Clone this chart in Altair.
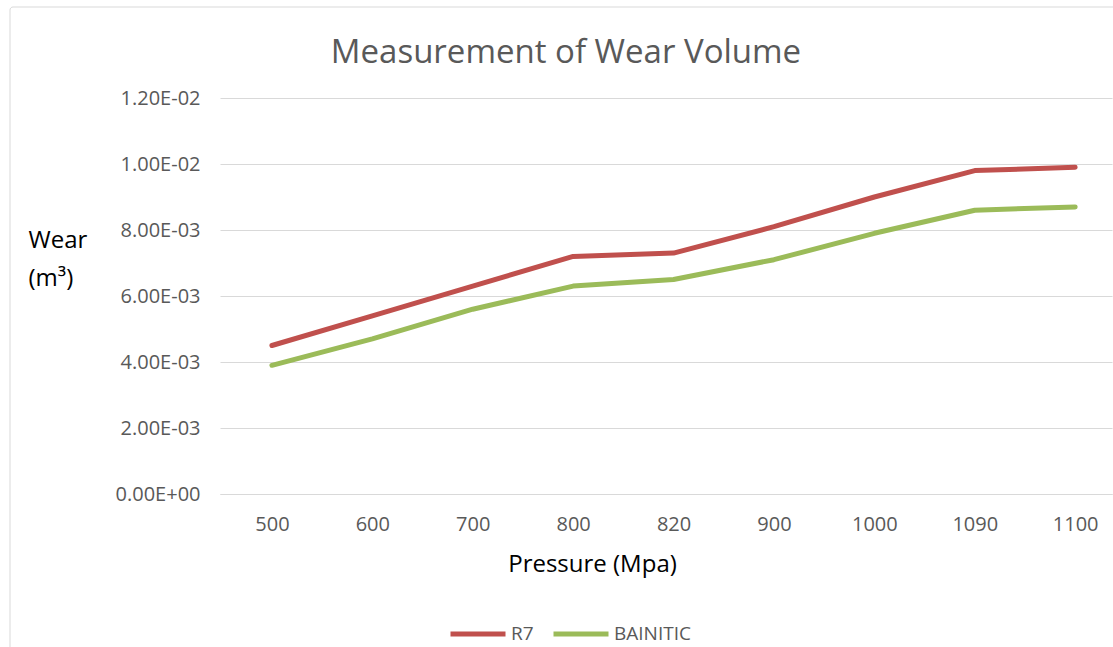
import altair as alt
import pandas as pd

pressure = ["500", "600", "700", "800", "820", "900", "1000", "1090", "1100"]
r7 = [0.0045, 0.0054, 0.0063, 0.0072, 0.0073, 0.0081, 0.0090, 0.0098, 0.0099]
bainitic = [0.0039, 0.0047, 0.0056, 0.0063, 0.0065, 0.0071, 0.0079, 0.0086, 0.0087]
series = ["R7", "BAINITIC"]
colors = ["#C0504D", "#9BBB59"]

rows = []
for i, p in enumerate(pressure):
    rows.append({"Pressure": p, "Series": "R7", "Wear": r7[i], "order": i})
    rows.append({"Pressure": p, "Series": "BAINITIC", "Wear": bainitic[i], "order": i})
df = pd.DataFrame(rows)

FONT = "Open Sans"

lines = alt.Chart(df).mark_line(strokeWidth=5, strokeCap="round", strokeJoin="round", clip=False).encode(
    x=alt.X("Pressure:N", sort=pressure,
            scale=alt.Scale(type="point", padding=0.442, align=0.585),
            axis=alt.Axis(title="Pressure (Mpa)", labelAngle=0, ticks=False, domain=True,
                          domainColor="#D9D9D9", grid=False, labelPadding=20,
                          labelFontSize=20, labelColor="#595959", labelFont=FONT,
                          titleFontSize=24, titleColor="#000000", titleFont=FONT,
                          titleFontWeight="normal", titleX=372, titleY=77,
                          titleAlign="center", titleBaseline="alphabetic")),
    y=alt.Y("Wear:Q",
            scale=alt.Scale(domain=[0, 0.012], nice=False),
            axis=alt.Axis(values=[0, 0.002, 0.004, 0.006, 0.008, 0.010, 0.012],
                          labelExpr="replace(replace(format(datum.value, '.2e'), 'e', 'E'), /E([+-])(\\d)$/, 'E$10$2')",
                          ticks=False, domain=False, grid=True, gridColor="#D9D9D9",
                          labelPadding=20, labelFontSize=20, labelColor="#595959", labelFont=FONT,
                          title=["Wear", "(m\u00b3)"], titleAngle=0, titleAlign="left",
                          titleBaseline="alphabetic", titleX=-192, titleY=149,
                          titleLineHeight=38, titleFontSize=24, titleColor="#000000",
                          titleFont=FONT, titleFontWeight="normal")),
    color=alt.Color("Series:N", sort=series,
                    scale=alt.Scale(domain=series, range=colors),
                    legend=alt.Legend(title=None, orient="none", direction="horizontal",
                                      legendX=228, legendY=506, symbolType="stroke",
                                      symbolSize=3025, symbolStrokeWidth=5,
                                      labelFontSize=19, labelColor="#595959", labelFont=FONT,
                                      labelOffset=3, columnPadding=9)),
    order="order:Q",
)

border = alt.Chart(pd.DataFrame({"b": [0]})).mark_rect(
    fill=None, stroke="#D9D9D9", strokeWidth=1, cornerRadius=3, clip=False
).encode(
    x=alt.value(-210), x2=alt.value(1000), y=alt.value(-91), y2=alt.value(700)
)

chart = alt.layer(border, lines).properties(
    width=892, height=396,
    autosize=alt.AutoSizeParams(type="none"),
    padding={"left": 220, "top": 98, "right": 1, "bottom": 153},
    title=alt.TitleParams("Measurement of Wear Volume", fontSize=33, font=FONT,
                          fontWeight="normal", color="#595959", dx=-100, offset=-89,
                          anchor="middle", baseline="alphabetic"),
).configure(background="white", view=alt.ViewConfig(stroke=None))

chart.save("out.html", embed_options={"renderer": "svg", "actions": False})
